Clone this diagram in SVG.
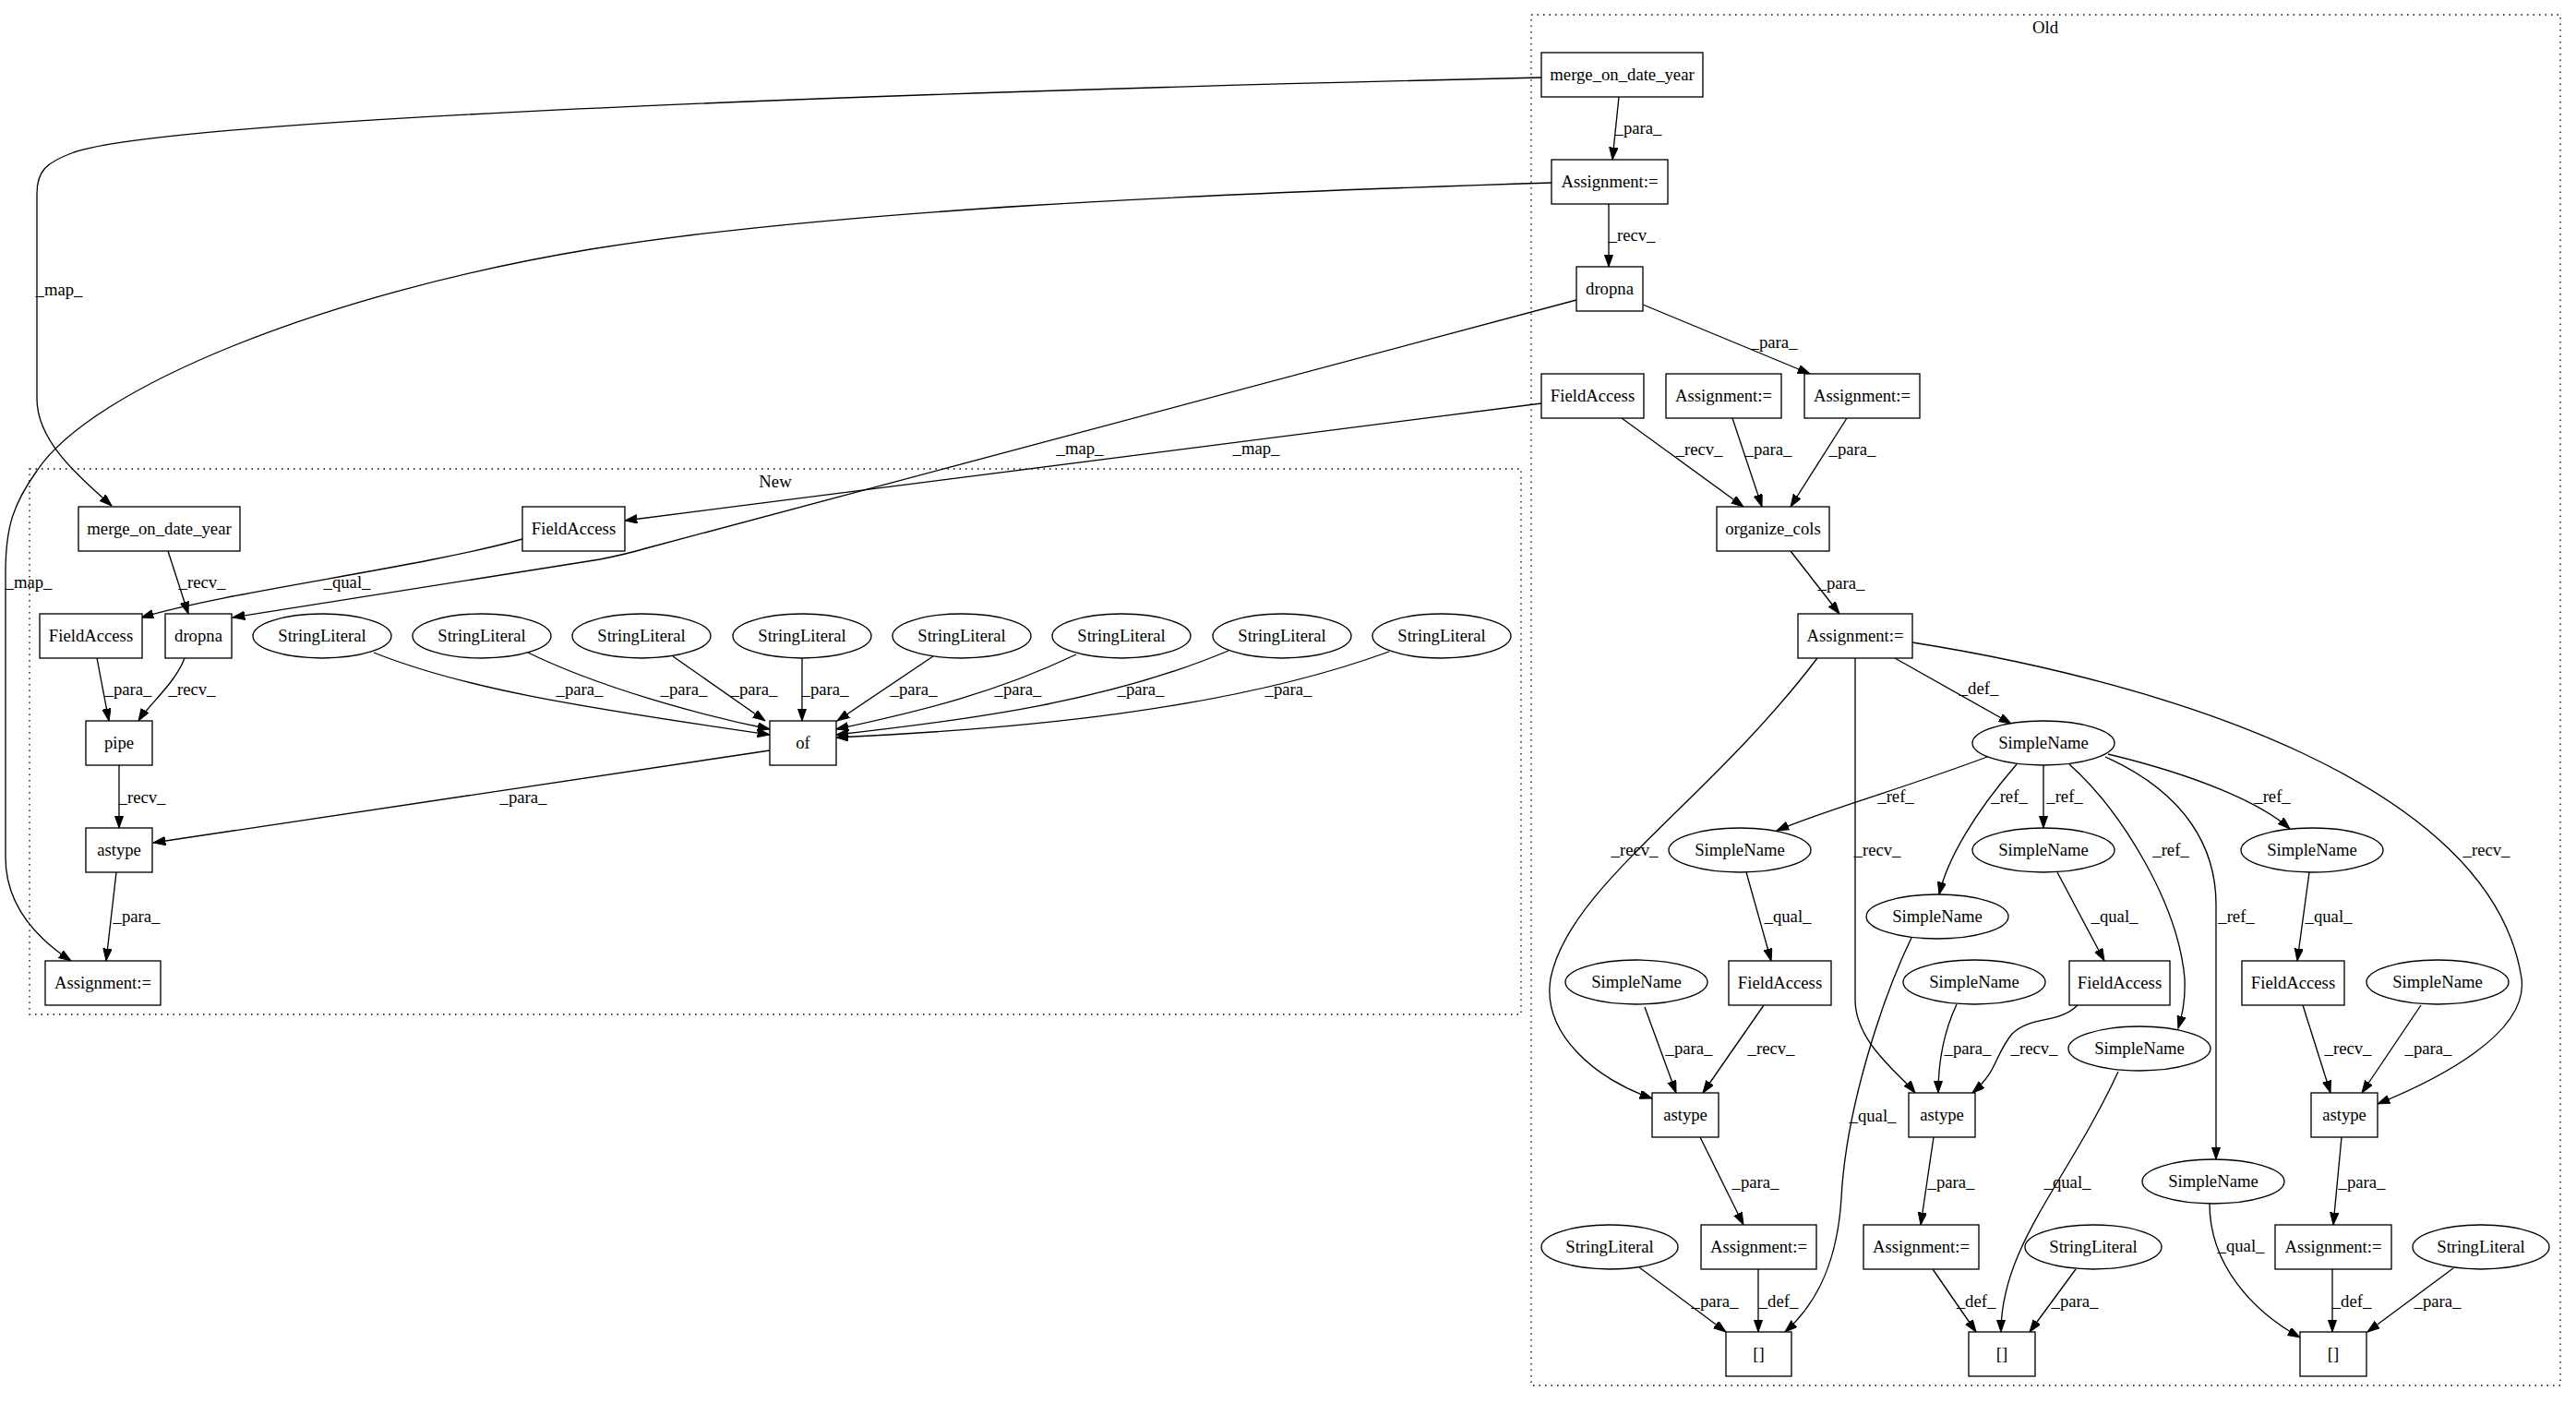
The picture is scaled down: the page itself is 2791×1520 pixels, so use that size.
<svg xmlns="http://www.w3.org/2000/svg" width="2791" height="1520" viewBox="0 0 2791 1520">
<style>
text{font-family:"Liberation Serif","Times New Roman",serif;font-size:18.7px;fill:#000;text-anchor:middle}
.n rect,.n ellipse{fill:#fff;stroke:#000;stroke-width:1.33}
.c{fill:none;stroke:#000;stroke-width:1.33;stroke-dasharray:1.5,5}
#edges path{fill:none;stroke:#000;stroke-width:1.33;marker-end:url(#ah)}
</style>
<defs>
<marker id="ah" markerUnits="userSpaceOnUse" markerWidth="14" markerHeight="10" refX="13.3" refY="4.67" orient="auto">
<path d="M0,0 L13.3,4.67 L0,9.33 z" fill="#000" stroke="#000" stroke-width="1"/>
</marker>
</defs>
<rect width="2791" height="1520" fill="#fff"/>
<g id="clusters">
<rect class="c" x="1659" y="16" width="1115" height="1485"/>
<text x="2216" y="36">Old</text>
<rect class="c" x="32" y="508" width="1616" height="591"/>
<text x="840" y="528">New</text>
</g>
<g id="edges">
<path d="M1670,84 C1100,97 200,125 80,165 C50,176 40,185 40,210 L40,432 C40,480 90,520 121,548"/>
<path d="M1681,198 C1300,210 900,228 640,270 C350,318 100,420 40,510 C15,545 6,570 6,620 L6,929 C6,985 45,1020 77,1041"/>
<path d="M1708,325 L700,594 Q680,600 650,606 L252,669"/>
<path d="M1670,437 L677,564"/>
<path d="M182,597 L204,665"/>
<path d="M566,584 C450,616 250,640 153,669"/>
<path d="M105,713 L118,781"/>
<path d="M200,713 C190,740 160,765 150,781"/>
<path d="M129,829 L129,897"/>
<path d="M834,813 L166,913"/>
<path d="M126,945 L115,1041"/>
<path d="M405,707 C500,745 620,765 834,796"/>
<path d="M572,707 C650,745 760,775 834,790"/>
<path d="M729,711 L829,781"/>
<path d="M869,713 L869,781"/>
<path d="M1011,711 L907,781"/>
<path d="M1166,709 C1080,750 1000,770 906,790"/>
<path d="M1331,705 C1200,760 1050,780 906,796"/>
<path d="M1505,706 C1330,770 1100,790 906,799"/>
<path d="M1754,105 L1747,173"/>
<path d="M1743,221 L1743,289"/>
<path d="M1780,330 L1961,405"/>
<path d="M1757,453 L1889,549"/>
<path d="M1877,453 L1909,549"/>
<path d="M2001,453 L1940,549"/>
<path d="M1940,597 L1993,665"/>
<path d="M2053,713 L2179,784"/>
<path d="M1969,713 C1850,870 1700,960 1680,1060 C1670,1120 1730,1170 1790,1190"/>
<path d="M2010,713 L2010,1083 C2010,1130 2060,1165 2075,1184"/>
<path d="M2072,696 C2350,740 2700,850 2732,1060 C2740,1120 2640,1170 2576,1196"/>
<path d="M2153,820 C2060,855 1970,880 1925,900"/>
<path d="M2185,828 C2140,880 2110,930 2101,969"/>
<path d="M2214,829 L2214,897"/>
<path d="M2242,828 C2300,880 2360,980 2367,1060 C2368,1085 2364,1100 2360,1114"/>
<path d="M2281,820 C2370,860 2401,920 2401,980 L2401,1256"/>
<path d="M2284,817 C2380,840 2450,870 2481,898"/>
<path d="M1892,945 L1919,1041"/>
<path d="M2229,945 L2280,1041"/>
<path d="M2502,945 L2489,1041"/>
<path d="M2071,1016 C2040,1080 2000,1200 1995,1298 C1990,1380 1960,1420 1934,1443"/>
<path d="M2295,1161 C2240,1280 2168,1350 2168,1443"/>
<path d="M2394,1304 C2394,1370 2440,1420 2492,1449"/>
<path d="M1911,1089 L1845,1184"/>
<path d="M1782,1091 L1816,1184"/>
<path d="M2251,1089 C2230,1110 2200,1100 2180,1120 C2160,1145 2165,1160 2137,1184"/>
<path d="M2120,1088 C2105,1120 2100,1150 2100,1184"/>
<path d="M2495,1089 L2525,1184"/>
<path d="M2623,1089 L2559,1184"/>
<path d="M1842,1232 L1889,1327"/>
<path d="M2095,1232 L2081,1327"/>
<path d="M2537,1232 L2528,1327"/>
<path d="M1905,1375 L1905,1443"/>
<path d="M1776,1373 L1870,1443"/>
<path d="M2094,1375 L2141,1443"/>
<path d="M2249,1375 L2199,1443"/>
<path d="M2527,1375 L2527,1443"/>
<path d="M2658,1374 L2565,1443"/>
</g>
<g id="edge-labels">
<text x="64" y="320">_map_</text>
<text x="31" y="637">_map_</text>
<text x="1170" y="492">_map_</text>
<text x="1361" y="492">_map_</text>
<text x="219" y="637">_recv_</text>
<text x="376" y="637">_qual_</text>
<text x="139" y="753">_para_</text>
<text x="208" y="753">_recv_</text>
<text x="154" y="870">_recv_</text>
<text x="567" y="870">_para_</text>
<text x="148" y="999">_para_</text>
<text x="628" y="753">_para_</text>
<text x="741" y="753">_para_</text>
<text x="817" y="753">_para_</text>
<text x="894" y="753">_para_</text>
<text x="990" y="753">_para_</text>
<text x="1103" y="753">_para_</text>
<text x="1236" y="753">_para_</text>
<text x="1396" y="753">_para_</text>
<text x="1775" y="145">_para_</text>
<text x="1768" y="261">_recv_</text>
<text x="1922" y="377">_para_</text>
<text x="1841" y="493">_recv_</text>
<text x="1916" y="493">_para_</text>
<text x="2007" y="493">_para_</text>
<text x="1995" y="638">_para_</text>
<text x="2144" y="752">_def_</text>
<text x="1771" y="927">_recv_</text>
<text x="2034" y="927">_recv_</text>
<text x="2694" y="927">_recv_</text>
<text x="2054" y="869">_ref_</text>
<text x="2177" y="869">_ref_</text>
<text x="2237" y="869">_ref_</text>
<text x="2462" y="869">_ref_</text>
<text x="2352" y="927">_ref_</text>
<text x="2423" y="999">_ref_</text>
<text x="1937" y="999">_qual_</text>
<text x="2291" y="999">_qual_</text>
<text x="2523" y="999">_qual_</text>
<text x="1830" y="1142">_para_</text>
<text x="1919" y="1142">_recv_</text>
<text x="2132" y="1142">_para_</text>
<text x="2204" y="1142">_recv_</text>
<text x="2544" y="1142">_recv_</text>
<text x="2631" y="1142">_para_</text>
<text x="2029" y="1215">_qual_</text>
<text x="2240" y="1287">_qual_</text>
<text x="2428" y="1356">_qual_</text>
<text x="1902" y="1287">_para_</text>
<text x="2114" y="1287">_para_</text>
<text x="2559" y="1287">_para_</text>
<text x="1858" y="1416">_para_</text>
<text x="1927" y="1416">_def_</text>
<text x="2141" y="1416">_def_</text>
<text x="2248" y="1416">_para_</text>
<text x="2548" y="1416">_def_</text>
<text x="2641" y="1416">_para_</text>
</g>
<g id="new-merge" class="n"><rect x="85" y="549" width="175" height="48"/><text x="172.5" y="579">merge_on_date_year</text></g>
<g id="new-fieldaccess1" class="n"><rect x="566" y="549" width="111" height="48"/><text x="621.5" y="579">FieldAccess</text></g>
<g id="new-fieldaccess2" class="n"><rect x="43" y="665" width="111" height="48"/><text x="98.5" y="695">FieldAccess</text></g>
<g id="new-dropna" class="n"><rect x="179" y="665" width="72" height="48"/><text x="215" y="695">dropna</text></g>
<g id="new-sl1" class="n"><ellipse cx="349" cy="689" rx="75" ry="24"/><text x="349" y="695">StringLiteral</text></g>
<g id="new-sl2" class="n"><ellipse cx="522" cy="689" rx="75" ry="24"/><text x="522" y="695">StringLiteral</text></g>
<g id="new-sl3" class="n"><ellipse cx="695" cy="689" rx="75" ry="24"/><text x="695" y="695">StringLiteral</text></g>
<g id="new-sl4" class="n"><ellipse cx="869" cy="689" rx="75" ry="24"/><text x="869" y="695">StringLiteral</text></g>
<g id="new-sl5" class="n"><ellipse cx="1042" cy="689" rx="75" ry="24"/><text x="1042" y="695">StringLiteral</text></g>
<g id="new-sl6" class="n"><ellipse cx="1215" cy="689" rx="75" ry="24"/><text x="1215" y="695">StringLiteral</text></g>
<g id="new-sl7" class="n"><ellipse cx="1389" cy="689" rx="75" ry="24"/><text x="1389" y="695">StringLiteral</text></g>
<g id="new-sl8" class="n"><ellipse cx="1562" cy="689" rx="75" ry="24"/><text x="1562" y="695">StringLiteral</text></g>
<g id="new-pipe" class="n"><rect x="93" y="781" width="72" height="48"/><text x="129" y="811">pipe</text></g>
<g id="new-of" class="n"><rect x="834" y="781" width="72" height="48"/><text x="870" y="811">of</text></g>
<g id="new-astype" class="n"><rect x="93" y="897" width="72" height="48"/><text x="129" y="927">astype</text></g>
<g id="new-assign" class="n"><rect x="49" y="1041" width="125" height="48"/><text x="111.5" y="1071">Assignment:=</text></g>
<g id="old-merge" class="n"><rect x="1670" y="57" width="175" height="48"/><text x="1757.5" y="87">merge_on_date_year</text></g>
<g id="old-assign1" class="n"><rect x="1681" y="173" width="126" height="48"/><text x="1744" y="203">Assignment:=</text></g>
<g id="old-dropna" class="n"><rect x="1708" y="289" width="72" height="48"/><text x="1744" y="319">dropna</text></g>
<g id="old-fieldaccess" class="n"><rect x="1670" y="405" width="111" height="48"/><text x="1725.5" y="435">FieldAccess</text></g>
<g id="old-assign2" class="n"><rect x="1805" y="405" width="125" height="48"/><text x="1867.5" y="435">Assignment:=</text></g>
<g id="old-assign3" class="n"><rect x="1955" y="405" width="125" height="48"/><text x="2017.5" y="435">Assignment:=</text></g>
<g id="old-organize" class="n"><rect x="1860" y="549" width="122" height="48"/><text x="1921" y="579">organize_cols</text></g>
<g id="old-assign4" class="n"><rect x="1948" y="665" width="124" height="48"/><text x="2010" y="695">Assignment:=</text></g>
<g id="old-sn-root" class="n"><ellipse cx="2214" cy="805" rx="77" ry="24"/><text x="2214" y="811">SimpleName</text></g>
<g id="old-sn-a" class="n"><ellipse cx="1885" cy="921" rx="77" ry="24"/><text x="1885" y="927">SimpleName</text></g>
<g id="old-sn-b" class="n"><ellipse cx="2214" cy="921" rx="77" ry="24"/><text x="2214" y="927">SimpleName</text></g>
<g id="old-sn-c" class="n"><ellipse cx="2505" cy="921" rx="77" ry="24"/><text x="2505" y="927">SimpleName</text></g>
<g id="old-sn-d" class="n"><ellipse cx="2099" cy="993" rx="77" ry="24"/><text x="2099" y="999">SimpleName</text></g>
<g id="old-sn-p1" class="n"><ellipse cx="1773" cy="1064" rx="77" ry="24"/><text x="1773" y="1070">SimpleName</text></g>
<g id="old-sn-p2" class="n"><ellipse cx="2139" cy="1064" rx="77" ry="24"/><text x="2139" y="1070">SimpleName</text></g>
<g id="old-sn-p3" class="n"><ellipse cx="2641" cy="1064" rx="77" ry="24"/><text x="2641" y="1070">SimpleName</text></g>
<g id="old-sn-e" class="n"><ellipse cx="2318" cy="1136" rx="77" ry="24"/><text x="2318" y="1142">SimpleName</text></g>
<g id="old-sn-f" class="n"><ellipse cx="2398" cy="1280" rx="77" ry="24"/><text x="2398" y="1286">SimpleName</text></g>
<g id="old-fa-a" class="n"><rect x="1873" y="1041" width="111" height="48"/><text x="1928.5" y="1071">FieldAccess</text></g>
<g id="old-fa-b" class="n"><rect x="2242" y="1041" width="109" height="48"/><text x="2296.5" y="1071">FieldAccess</text></g>
<g id="old-fa-c" class="n"><rect x="2429" y="1041" width="111" height="48"/><text x="2484.5" y="1071">FieldAccess</text></g>
<g id="old-astype-a" class="n"><rect x="1790" y="1184" width="72" height="48"/><text x="1826" y="1214">astype</text></g>
<g id="old-astype-b" class="n"><rect x="2068" y="1184" width="72" height="48"/><text x="2104" y="1214">astype</text></g>
<g id="old-astype-c" class="n"><rect x="2504" y="1184" width="72" height="48"/><text x="2540" y="1214">astype</text></g>
<g id="old-assign-a" class="n"><rect x="1843" y="1327" width="125" height="48"/><text x="1905.5" y="1357">Assignment:=</text></g>
<g id="old-assign-b" class="n"><rect x="2019" y="1327" width="125" height="48"/><text x="2081.5" y="1357">Assignment:=</text></g>
<g id="old-assign-c" class="n"><rect x="2465" y="1327" width="126" height="48"/><text x="2528" y="1357">Assignment:=</text></g>
<g id="old-sl-a" class="n"><ellipse cx="1744" cy="1351" rx="74" ry="24"/><text x="1744" y="1357">StringLiteral</text></g>
<g id="old-sl-b" class="n"><ellipse cx="2268" cy="1351" rx="74" ry="24"/><text x="2268" y="1357">StringLiteral</text></g>
<g id="old-sl-c" class="n"><ellipse cx="2688" cy="1351" rx="74" ry="24"/><text x="2688" y="1357">StringLiteral</text></g>
<g id="old-idx-a" class="n"><rect x="1870" y="1443" width="71" height="48"/><text x="1905.5" y="1473">[]</text></g>
<g id="old-idx-b" class="n"><rect x="2133" y="1443" width="72" height="48"/><text x="2169" y="1473">[]</text></g>
<g id="old-idx-c" class="n"><rect x="2492" y="1443" width="72" height="48"/><text x="2528" y="1473">[]</text></g>
</svg>
